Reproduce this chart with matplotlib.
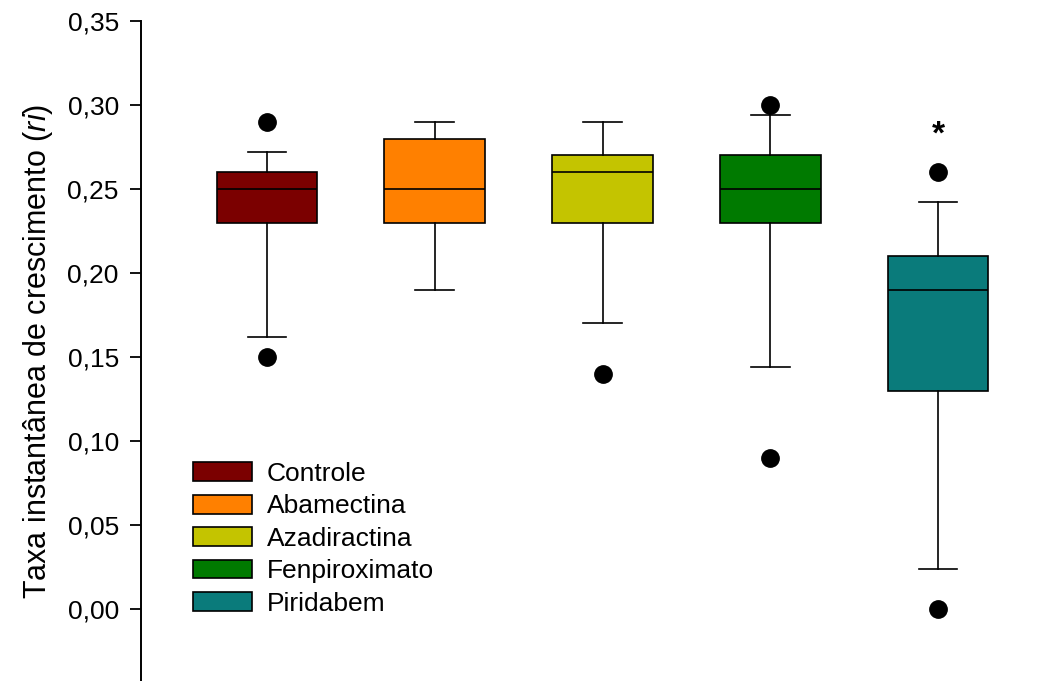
import matplotlib
matplotlib.use('Agg')
import matplotlib.pyplot as plt
from matplotlib.patches import Patch

plt.rcParams['font.family'] = 'Liberation Sans'
plt.rcParams['mathtext.fontset'] = 'custom'
plt.rcParams['mathtext.rm'] = 'Liberation Sans'
plt.rcParams['mathtext.it'] = 'Liberation Sans:italic'

# treatments and their box summaries (instantaneous growth rate, ri)
treatments = ['Controle', 'Abamectina', 'Azadiractina', 'Fenpiroximato', 'Piridabem']
colors = ['#7b0000', '#ff8000', '#c4c400', '#007a00', '#0a7b7b']
whisker_low = [0.162, 0.19, 0.17, 0.144, 0.024]
q1 = [0.23, 0.23, 0.23, 0.23, 0.13]
median = [0.25, 0.25, 0.26, 0.25, 0.19]
q3 = [0.26, 0.28, 0.27, 0.27, 0.21]
whisker_high = [0.272, 0.29, 0.29, 0.294, 0.242]
outliers = [[0.29, 0.15], [], [0.14], [0.30, 0.09], [0.26, 0.00]]
yticks = [0.00, 0.05, 0.10, 0.15, 0.20, 0.25, 0.30, 0.35]

stats = []
for i in range(len(treatments)):
    stats.append(dict(label=treatments[i], whislo=whisker_low[i], q1=q1[i], med=median[i],
                      q3=q3[i], whishi=whisker_high[i], fliers=outliers[i]))

fig = plt.figure(figsize=(10.57, 6.81), dpi=100)
ax = fig.add_axes([141 / 1057, 0, 916 / 1057, 660 / 681])

positions = list(range(1, len(treatments) + 1))
bp = ax.bxp(stats, positions=positions, widths=0.6, capwidths=0.23, patch_artist=True,
            boxprops=dict(linewidth=1.2, edgecolor='black'),
            medianprops=dict(color='black', linewidth=1.2),
            whiskerprops=dict(color='black', linewidth=1.2),
            capprops=dict(color='black', linewidth=1.2),
            flierprops=dict(marker='o', markerfacecolor='black', markeredgecolor='black',
                            markersize=12.5, linestyle='none'))
for box, c in zip(bp['boxes'], colors):
    box.set_facecolor(c)

# significance mark over Piridabem
ax.text(5, 0.277, '*', ha='center', va='baseline', fontsize=24, fontweight='bold')

ax.set_xlim(0.249, 5.709)
ax.set_ylim(-72 / 1680, 0.35)
ax.set_yticks(yticks)
ax.set_yticklabels([f'{v:.2f}'.replace('.', ',') for v in yticks])
ax.tick_params(axis='y', labelsize=19, length=8, width=1.3, pad=8)
ax.set_xticks([])
for side in ['top', 'right', 'bottom']:
    ax.spines[side].set_visible(False)
ax.spines['left'].set_linewidth(1.4)

ax.set_ylabel('Taxa instantânea de crescimento ($\\it{ri}$)', fontsize=22)
ax.yaxis.set_label_coords(-0.094, 0.5)

handles = [Patch(facecolor=c, edgecolor='black', linewidth=1.2) for c in colors]
ax.legend(handles, treatments, loc='upper left', bbox_to_anchor=(52 / 916, 0.332),
          frameon=False, fontsize=19, handlelength=2.23, handleheight=0.72,
          handletextpad=0.57, labelspacing=0.32, borderpad=0, borderaxespad=0)

fig.savefig('out.png', dpi=100)
